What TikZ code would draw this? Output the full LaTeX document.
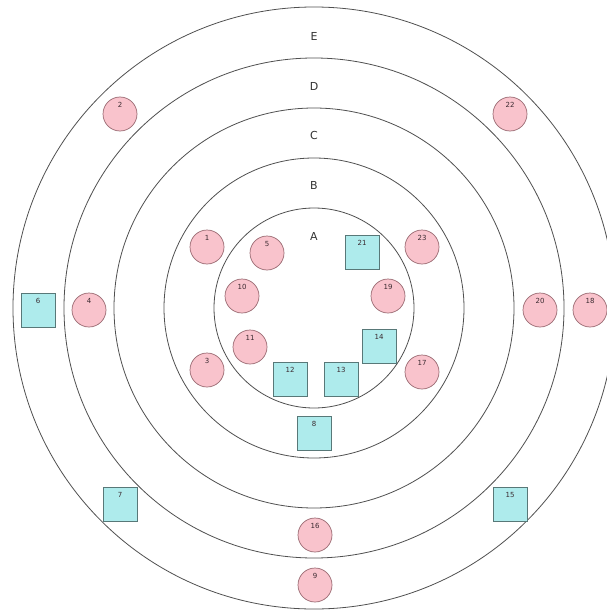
\documentclass[tikz,border=0pt]{standalone}
\usepackage{fontspec}
\setmainfont{DejaVu Sans}
\definecolor{ringc}{HTML}{505050}
\definecolor{pinkf}{HTML}{F9C3CC}
\definecolor{pinkd}{HTML}{9A6A72}
\definecolor{cyanf}{HTML}{AEEBEC}
\definecolor{cyand}{HTML}{587878}
\definecolor{numc}{HTML}{3A2A30}
\tikzset{
  ring/.style={draw=ringc, line width=0.8pt},
  ringlabel/.style={font=\fontsize{11}{11}\selectfont, text=black!80, inner sep=0pt},
  pnode/.style={circle, draw=pinkd, fill=pinkf, line width=0.7pt, minimum size=34pt, inner sep=0pt},
  cnode/.style={rectangle, draw=cyand, fill=cyanf, line width=0.8pt, minimum size=34pt, inner sep=0pt},
  num/.style={font=\fontsize{7}{7}\selectfont, text=numc, inner sep=0pt}
}
\begin{document}
\begin{tikzpicture}[x=1pt, y=-1pt]
\useasboundingbox (0,0) rectangle (606,610);
\fill[white] (0,0) rectangle (606,610);
\coordinate (ctr) at (314,308);
\draw[ring] (ctr) circle[radius=301];
\draw[ring] (ctr) circle[radius=250];
\draw[ring] (ctr) circle[radius=200];
\draw[ring] (ctr) circle[radius=150];
\draw[ring] (ctr) circle[radius=100];
\node[ringlabel] (lE) at (314,36) {E};
\node[ringlabel] (lD) at (314,86) {D};
\node[ringlabel] (lC) at (314,135) {C};
\node[ringlabel] (lB) at (314,185) {B};
\node[ringlabel] (lA) at (314,236) {A};
% circles
\foreach \n/\x/\y in {1/207/247, 5/267/253, 23/422/247, 10/242/296, 19/388/296,
  11/250/347, 3/207/370, 17/422/372, 16/315/535, 9/315/585, 2/120/114,
  22/510/114, 4/89/310, 20/540/310, 18/590/310}{
  \node[pnode] (p\n) at (\x,\y) {};
  \node[num] (t\n) at ([yshift=-8pt]p\n.north) {\n};
}
% squares
\foreach \n/\x/\y in {21/362/252, 12/290/379, 13/341/379, 14/379/346, 8/314/433,
  7/120/504, 15/510/504, 6/38/310}{
  \node[cnode] (s\n) at (\x,\y) {};
  \node[num] (t\n) at ([yshift=-8pt]s\n.north) {\n};
}
\end{tikzpicture}
\end{document}
